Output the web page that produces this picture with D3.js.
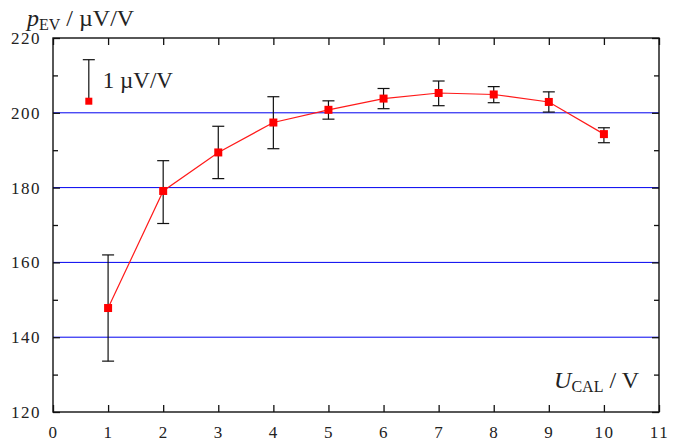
<!DOCTYPE html>
<html lang="en">
<head>
    <meta charset="UTF-8">
    <title>p_EV vs U_CAL</title>
    <script src="https://d3js.org/d3.v7.min.js"></script>
    <style>
        body { margin: 0; background: #fff; }
        svg { display: block; }
        text { font-family: "Liberation Serif", "DejaVu Serif", serif; fill: #222; }
        .tick-label { font-size: 17px; letter-spacing: 1.5px; }
    </style>
</head>
<body>
    <svg id="chart" width="686" height="443"></svg>
    <script>
        // measured values
        const uCal = [1, 2, 3, 4, 5, 6, 7, 8, 9, 10];
        const pEv = [147.8, 179.1, 189.4, 197.4, 200.8, 203.8, 205.3, 204.9, 202.9, 194.3];
        const errUp = [14.2, 8.1, 7.0, 6.9, 2.4, 2.7, 3.2, 2.1, 2.7, 1.7];
        const errDown = [14.2, 8.7, 7.0, 7.0, 2.5, 2.7, 3.4, 2.2, 2.7, 2.3];

        const xTicks = [0, 1, 2, 3, 4, 5, 6, 7, 8, 9, 10, 11];
        const yTicks = [120, 140, 160, 180, 200, 220];
        const yMinor = [130, 150, 170, 190, 210];
        const gridValues = [140, 160, 180, 200];

        // scale marker in the upper left corner
        const markerX = [0.65];
        const markerY = [203.1];
        const markerTop = [214.2];

        const svg = d3.select("#chart");
        const margin = { top: 38, right: 27, bottom: 31, left: 53 };
        const width = +svg.attr("width") - margin.left - margin.right;
        const height = +svg.attr("height") - margin.top - margin.bottom;

        const x = d3.scaleLinear().domain([0, 11]).range([0, width]);
        const y = d3.scaleLinear().domain([120, 220]).range([height, 0]);

        const g = svg.append("g")
            .attr("transform", `translate(${margin.left},${margin.top})`);

        // horizontal grid lines
        g.selectAll(".grid")
            .data(gridValues)
            .enter().append("line")
            .attr("x1", 0).attr("x2", width)
            .attr("y1", d => y(d)).attr("y2", d => y(d))
            .attr("stroke", "#0000f0")
            .attr("stroke-width", 1);

        // axes with inward ticks
        const tickStyle = sel => {
            sel.attr("font-family", null).attr("font-size", null);
            sel.select(".domain").remove();
            sel.selectAll(".tick line").attr("stroke", "#111").attr("stroke-width", 1.3);
        };

        g.append("g")
            .attr("transform", `translate(0,${height})`)
            .call(d3.axisBottom(x).tickValues(xTicks).tickSize(-7).tickPadding(14).tickFormat(d3.format("d")))
            .call(tickStyle)
            .selectAll("text").attr("class", "tick-label").attr("fill", "#222");

        g.append("g")
            .call(d3.axisTop(x).tickValues(xTicks).tickSize(-7).tickFormat(""))
            .call(tickStyle);

        g.append("g")
            .call(d3.axisLeft(y).tickValues(yTicks).tickSize(-7).tickPadding(12).tickFormat(d3.format("d")))
            .call(tickStyle)
            .selectAll("text").attr("class", "tick-label").attr("fill", "#222");

        g.append("g")
            .call(d3.axisLeft(y).tickValues(yMinor).tickSize(-5).tickFormat(""))
            .call(tickStyle);

        g.append("g")
            .attr("transform", `translate(${width},0)`)
            .call(d3.axisRight(y).tickValues(yTicks).tickSize(-7).tickFormat(""))
            .call(tickStyle);

        g.append("g")
            .attr("transform", `translate(${width},0)`)
            .call(d3.axisRight(y).tickValues(yMinor).tickSize(-5).tickFormat(""))
            .call(tickStyle);

        // frame
        g.append("rect")
            .attr("width", width).attr("height", height)
            .attr("fill", "none").attr("stroke", "#111").attr("stroke-width", 1.4);

        const data = uCal.map((u, i) => ({ u, p: pEv[i], hi: pEv[i] + errUp[i], lo: pEv[i] - errDown[i] }));

        // connecting line
        g.append("path")
            .datum(data)
            .attr("fill", "none")
            .attr("stroke", "#ff1a1a")
            .attr("stroke-width", 1.2)
            .attr("d", d3.line().x(d => x(d.u)).y(d => y(d.p)));

        // error bars
        const capW = 6;
        const bars = g.selectAll(".err").data(data).enter().append("g");
        bars.append("line")
            .attr("x1", d => x(d.u)).attr("x2", d => x(d.u))
            .attr("y1", d => y(d.hi)).attr("y2", d => y(d.lo))
            .attr("stroke", "#111").attr("stroke-width", 1.2);
        bars.append("line")
            .attr("x1", d => x(d.u) - capW).attr("x2", d => x(d.u) + capW)
            .attr("y1", d => y(d.hi)).attr("y2", d => y(d.hi))
            .attr("stroke", "#111").attr("stroke-width", 1.2);
        bars.append("line")
            .attr("x1", d => x(d.u) - capW).attr("x2", d => x(d.u) + capW)
            .attr("y1", d => y(d.lo)).attr("y2", d => y(d.lo))
            .attr("stroke", "#111").attr("stroke-width", 1.2);

        // points
        const sq = 8;
        g.selectAll(".pt").data(data).enter().append("rect")
            .attr("x", d => x(d.u) - sq / 2).attr("y", d => y(d.p) - sq / 2)
            .attr("width", sq).attr("height", sq)
            .attr("fill", "#ff0000");

        // scale marker
        const mk = markerX.map((mx, i) => ({ u: mx, p: markerY[i], hi: markerTop[i] }));
        g.selectAll(".mk-line").data(mk).enter().append("line")
            .attr("x1", d => x(d.u)).attr("x2", d => x(d.u))
            .attr("y1", d => y(d.hi)).attr("y2", d => y(d.p))
            .attr("stroke", "#111").attr("stroke-width", 1.2);
        g.selectAll(".mk-cap").data(mk).enter().append("line")
            .attr("x1", d => x(d.u) - capW).attr("x2", d => x(d.u) + capW)
            .attr("y1", d => y(d.hi)).attr("y2", d => y(d.hi))
            .attr("stroke", "#111").attr("stroke-width", 1.2);
        g.selectAll(".mk-pt").data(mk).enter().append("rect")
            .attr("x", d => x(d.u) - 3.5).attr("y", d => y(d.p) - 3.5)
            .attr("width", 7).attr("height", 7)
            .attr("fill", "#ff0000");
        g.selectAll(".mk-label").data(mk).enter().append("text")
            .attr("x", d => x(d.u) + 14)
            .attr("y", d => y((d.p + d.hi) / 2) + 8)
            .attr("font-size", 23)
            .text("1 µV/V");

        // axis titles
        const yTitle = svg.append("text")
            .attr("x", 27).attr("y", 26)
            .attr("font-size", 24);
        yTitle.append("tspan").attr("font-style", "italic").text("p");
        yTitle.append("tspan").attr("font-size", 16).attr("dy", 4).text("EV");
        yTitle.append("tspan").attr("dy", -4).text(" / µV/V");

        const xTitle = svg.append("text")
            .attr("x", margin.left + width - 20).attr("y", margin.top + height - 24)
            .attr("text-anchor", "end")
            .attr("font-size", 24);
        xTitle.append("tspan").attr("font-style", "italic").text("U");
        xTitle.append("tspan").attr("font-size", 16).attr("dy", 4).text("CAL");
        xTitle.append("tspan").attr("dy", -4).text(" / V");
    </script>
</body>
</html>
